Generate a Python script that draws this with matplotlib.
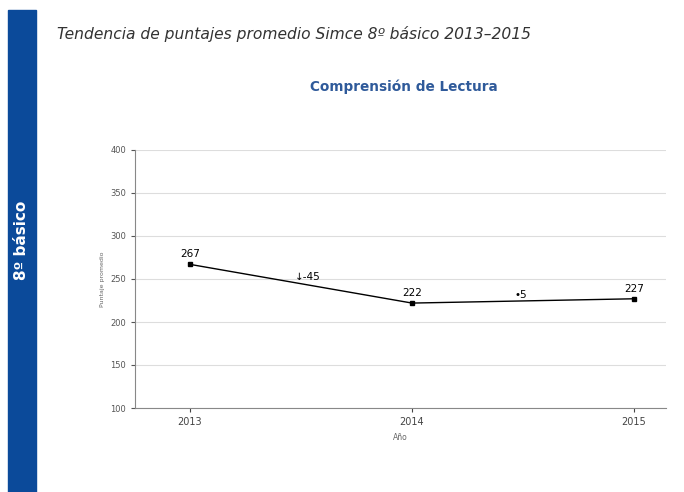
import matplotlib.pyplot as plt
from matplotlib.patches import Rectangle

# datos
anios = [2013, 2014, 2015]
puntajes = [267, 222, 227]
etiquetas = ['267', '222', '227']
variaciones = ['\u2193-45', '\u20225']
pos_var = [2013.53, 2014.49]
y_var = [252, 231]

fig = plt.figure(figsize=(6.84, 4.92), dpi=100)

# barra lateral azul
fig.patches.append(Rectangle((8/684, 0), 28/684, 1 - 10/492, transform=fig.transFigure,
                             color='#0b4a9a', zorder=0))
fig.text(22/684, 1 - 240/492, '8º básico', rotation=90, color='white', fontsize=11,
         fontweight='bold', ha='center', va='center')

fig.text(57/684, 1 - 34/492, 'Tendencia de puntajes promedio Simce 8º básico 2013–2015',
         fontsize=11.2, style='italic', color='#333333', va='center')
fig.text(404/684, 1 - 87/492, 'Comprensión de Lectura', fontsize=9.8, fontweight='bold',
         color='#2f5a9a', ha='center', va='center')

ax = fig.add_axes([135/684, 1 - 408/492, 531/684, 258/492])
ax.plot(anios, puntajes, color='black', lw=1, marker='s', ms=3.5)
for x, y, t in zip(anios, puntajes, etiquetas):
    ax.text(x, y + 6, t, ha='center', va='bottom', fontsize=7.5)
for x, y, t in zip(pos_var, y_var, variaciones):
    ax.text(x, y, t, ha='center', va='center', fontsize=7.5)

ax.set_xlim(2012.752, 2015.144)
ax.set_ylim(100, 400)
ax.set_xticks(anios)
ax.set_yticks(range(100, 401, 50))
ax.tick_params(axis='y', labelsize=6, colors='#555555', length=3)
ax.tick_params(axis='x', labelsize=7, colors='#444444', length=3)
ax.grid(axis='y', color='#dddddd', lw=0.8)
ax.set_axisbelow(True)
for s in ['top', 'right']:
    ax.spines[s].set_visible(False)
for s in ['left', 'bottom']:
    ax.spines[s].set_color('#888888')
ax.set_ylabel('Puntaje promedio', fontsize=4.5, color='#666666')
ax.set_xlabel('Año', fontsize=5.5, color='#666666')

fig.savefig('out.png', dpi=100)
